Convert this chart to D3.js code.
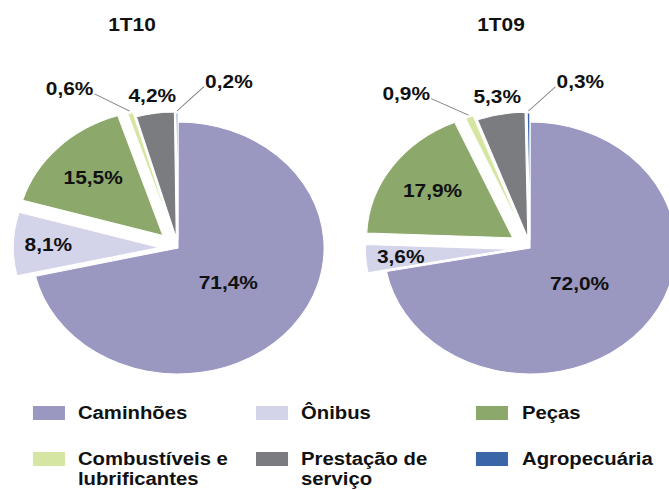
<!DOCTYPE html>
<html><head><meta charset="utf-8">
<script src="https://cdn.jsdelivr.net/npm/d3@7"></script>
<style>html,body{margin:0;padding:0;background:#fff;} svg{display:block;font-family:"Liberation Sans",Arial,sans-serif;font-weight:bold;}</style>
</head><body><svg id="chart" width="669" height="490"></svg>
<script>
// ---- data ----
const categories = ["Caminhões","Ônibus","Peças","Combustíveis e lubrificantes","Prestação de serviço","Agropecuária"];
const legendLines = [["Caminhões"],["Ônibus"],["Peças"],["Combustíveis e","lubrificantes"],["Prestação de","serviço"],["Agropecuária"]];
const chartTitles = ["1T10","1T09"];
const values1T10 = [71.4, 8.1, 15.5, 0.6, 4.2, 0.2];
const values1T09 = [72.0, 3.6, 17.9, 0.9, 5.3, 0.3];

// ---- styles ----
const colors = ["#9a97c1","#d3d3ea","#8ca96b","#d4e6a2","#7b7c80","#3a66a8"];
const explode = [0, 16, 18, 15, 10, 9];
const labelMode = ["in","in","in","leader","out","leader"];
const labelK = [0.44, 0.76, 0.665, 1.32, 1.14, 1.32];
const leaderSide = [0,0,0,-1,0,1];

const SX = 1.16, R = 126;
const charts = [
  {title: chartTitles[0], values: values1T10, cx: 153.4, cy: 248, tx: 113.8},
  {title: chartTitles[1], values: values1T09, cx: 456.9, cy: 248, tx: 431.9}
];

const svg = d3.select("#chart");
const root = svg.append("g").attr("transform", `scale(${SX},1)`);
const fmt = v => d3.format(".1f")(v).replace(".", ",") + "%";
const polar = (a, r) => [Math.sin(a) * r, -Math.cos(a) * r];

const pie = d3.pie().sort(null).value(d => d);
const arc = d3.arc().innerRadius(0).outerRadius(R);

charts.forEach(ch => {
  root.append("text").attr("x", ch.tx).attr("y", 25).attr("dy", "0.36em")
    .attr("text-anchor", "middle").attr("font-size", 18).attr("fill", "#111").text(ch.title);
  const g = root.append("g").attr("transform", `translate(${ch.cx},${ch.cy})`);
  const arcs = pie(ch.values);
  arcs.forEach((a, i) => {
    const mid = (a.startAngle + a.endAngle) / 2;
    const off = polar(mid, explode[i]);
    g.append("path").attr("d", arc(a)).attr("transform", `translate(${off[0]},${off[1]})`)
      .attr("fill", colors[i]).attr("stroke", "#fff").attr("stroke-width", 1);
  });
  arcs.forEach((a, i) => {
    const mid = (a.startAngle + a.endAngle) / 2;
    const off = polar(mid, explode[i]);
    let p;
    const b = polar(mid, R * labelK[i]);
    if (labelMode[i] === "leader") {
      p = [b[0] + leaderSide[i] * 45, b[1]];
    } else {
      p = [b[0] + off[0], b[1] + off[1]];
    }
    const t = g.append("text").attr("x", p[0]).attr("y", p[1]).attr("dy", "0.36em")
      .attr("text-anchor", "middle").attr("font-size", 18).attr("fill", "#111").text(fmt(ch.values[i]));
    if (labelMode[i] === "leader") {
      const w = t.node().getBBox().width;
      const s = polar(mid, R + 2);
      const x1 = s[0] + off[0], y1 = s[1] + off[1];
      const x2 = p[0] - leaderSide[i] * (w / 2 + 1), y2 = p[1] + 5;
      g.append("line").attr("x1", x1).attr("y1", y1).attr("x2", x2).attr("y2", y2)
        .attr("stroke", "#808080").attr("stroke-width", 0.9);
    }
  });
});

// ---- legend ----
const swX = [28.4, 220.7, 410.3], txX = [67.2, 259.5, 450];
const rowY = [413, 459];
categories.forEach((c, i) => {
  const col = i % 3, row = Math.floor(i / 3);
  const lg = root.append("g");
  lg.append("rect").attr("x", swX[col]).attr("y", rowY[row] - 7).attr("width", 27.6).attr("height", 14)
    .attr("fill", colors[i]);
  legendLines[i].forEach((ln, j) => {
    lg.append("text").attr("x", txX[col]).attr("y", rowY[row] + j * 20).attr("dy", "0.36em")
      .attr("font-size", 17.5).attr("fill", "#111").text(ln);
  });
});
</script>
</body></html>
